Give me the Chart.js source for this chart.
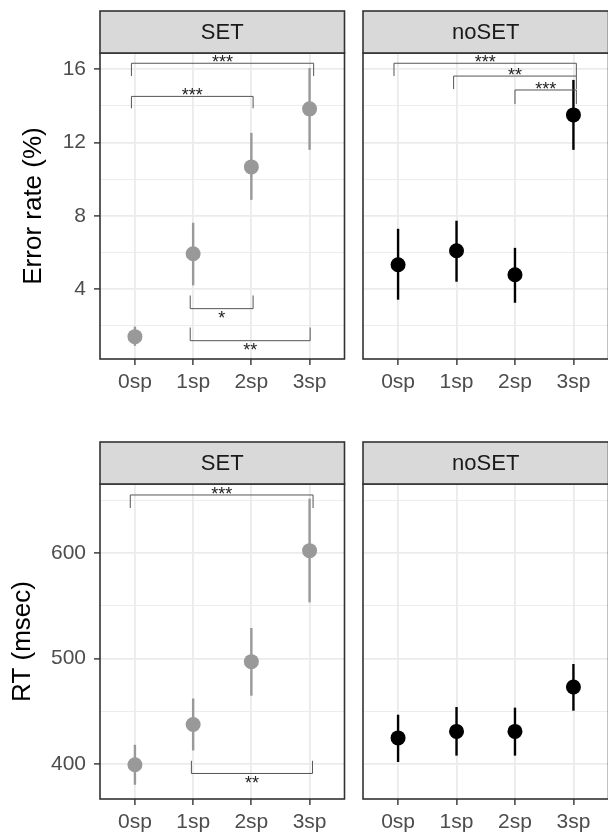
<!DOCTYPE html>
<html>
<head>
<meta charset="utf-8">
<script src="https://cdn.jsdelivr.net/npm/chart.js@4.4.1/dist/chart.umd.min.js"></script>
<style>
  html, body { margin: 0; padding: 0; background: #fff; overflow: hidden; }
  #wrap { position: relative; width: 608px; height: 835px; overflow: hidden; }
  canvas { position: absolute; }
</style>
</head>
<body>
<div id="wrap">
  <canvas id="errSet" width="352" height="410" style="left:0;top:0"></canvas>
  <canvas id="errNoSet" width="264" height="410" style="left:352px;top:0"></canvas>
  <canvas id="rtSet" width="352" height="425" style="left:0;top:410px"></canvas>
  <canvas id="rtNoSet" width="264" height="425" style="left:352px;top:410px"></canvas>
</div>
<script>
const conditions = ["0sp", "1sp", "2sp", "3sp"];

// error rate (%): mean and interval ends
const errSetMean = [1.40, 5.93, 10.67, 13.84];
const errSetLow = [0.90, 4.20, 8.87, 11.60];
const errSetHigh = [1.95, 7.62, 12.53, 16.07];
const errNoSetMean = [5.33, 6.09, 4.78, 13.51];
const errNoSetLow = [3.42, 4.40, 3.25, 11.60];
const errNoSetHigh = [7.29, 7.73, 6.25, 15.42];

// RT (msec)
const rtSetMean = [399.3, 437.4, 497.0, 602.2];
const rtSetLow = [380.3, 412.8, 464.7, 553.2];
const rtSetHigh = [418.2, 462.1, 528.9, 651.5];
const rtNoSetMean = [424.7, 430.9, 430.9, 473.0];
const rtNoSetLow = [401.9, 407.9, 407.9, 450.5];
const rtNoSetHigh = [446.7, 454.0, 453.4, 494.8];

const errTicks = [4, 8, 12, 16];
const errMinor = [2, 6, 10, 14];
const errRange = [0.18, 16.89];
const rtTicks = [400, 500, 600];
const rtMinor = [450, 550, 650];
const rtRange = [366.8, 665.4];

// significance brackets: [from, to, line y, leg end y, label]
const errSetBrackets = [
    [-0.06, 3.07, 16.33, 15.63, "***"],
    [-0.06, 2.03, 14.52, 13.87, "***"],
    [0.95, 2.03, 2.93, 3.65, "*"],
    [0.95, 3.01, 1.18, 1.90, "**"]
];
const errNoSetBrackets = [
    [-0.07, 3.05, 16.33, 15.63, "***"],
    [0.95, 3.05, 15.63, 14.92, "**"],
    [2.00, 3.05, 14.87, 14.10, "***"]
];
const rtSetBrackets = [
    [-0.08, 3.06, 655, 642.6, "***"],
    [0.97, 3.05, 391, 403, "**"]
];
const rtNoSetBrackets = [];

Chart.defaults.font.family = "'Liberation Sans', Arial, sans-serif";

function makePanel(id, cfg) {
    const isMajor = v => cfg.major.includes(v);

    const deco = {
        id: "deco",
        beforeDatasetsDraw(chart) {
            const { ctx, scales: { x, y } } = chart;
            ctx.save();
            ctx.strokeStyle = cfg.color;
            ctx.lineWidth = 2.4;
            cfg.low.forEach((lo, i) => {
                const px = x.getPixelForValue(i);
                ctx.beginPath();
                ctx.moveTo(px, y.getPixelForValue(lo));
                ctx.lineTo(px, y.getPixelForValue(cfg.high[i]));
                ctx.stroke();
            });
            ctx.restore();
        },
        afterDatasetsDraw(chart) {
            const { ctx, scales: { x, y } } = chart;
            ctx.save();
            ctx.strokeStyle = "#555";
            ctx.lineWidth = 1;
            ctx.fillStyle = "#222";
            ctx.font = "18px 'Liberation Sans', Arial, sans-serif";
            ctx.textAlign = "center";
            ctx.textBaseline = "alphabetic";
            cfg.brackets.forEach(b => {
                const x1 = x.getPixelForValue(b[0]);
                const x2 = x.getPixelForValue(b[1]);
                const ly = y.getPixelForValue(b[2]);
                const ty = y.getPixelForValue(b[3]);
                ctx.beginPath();
                ctx.moveTo(x1, ty);
                ctx.lineTo(x1, ly);
                ctx.lineTo(x2, ly);
                ctx.lineTo(x2, ty);
                ctx.stroke();
                const below = ty < ly;
                ctx.fillText(b[4], (x1 + x2) / 2, below ? ly + 15.5 : ly + 5);
            });
            ctx.restore();
        },
        afterDraw(chart) {
            const { ctx, chartArea: a } = chart;
            ctx.save();
            ctx.strokeStyle = "#333";
            ctx.lineWidth = 1.6;
            ctx.strokeRect(a.left, a.top, a.right - a.left, a.bottom - a.top);
            ctx.fillStyle = "#d9d9d9";
            ctx.fillRect(a.left, a.top - 42, a.right - a.left, 42);
            ctx.strokeRect(a.left, a.top - 42, a.right - a.left, 42);
            ctx.fillStyle = "#1a1a1a";
            ctx.font = "22px 'Liberation Sans', Arial, sans-serif";
            ctx.textAlign = "center";
            ctx.textBaseline = "middle";
            ctx.fillText(cfg.strip, (a.left + a.right) / 2, a.top - 20);
            ctx.restore();
        }
    };

    return new Chart(document.getElementById(id), {
        type: "scatter",
        data: {
            datasets: [{
                data: cfg.mean.map((v, i) => ({ x: i, y: v })),
                pointRadius: 7.5,
                pointHoverRadius: 7.5,
                pointBackgroundColor: cfg.color,
                pointBorderWidth: 0
            }]
        },
        options: {
            responsive: false,
            animation: false,
            events: [],
            layout: { padding: { top: cfg.padTop, left: cfg.padLeft, right: cfg.padRight, bottom: 0 } },
            plugins: { legend: { display: false }, tooltip: { enabled: false } },
            scales: {
                x: {
                    type: "linear",
                    min: -0.6,
                    max: 3.6,
                    afterBuildTicks: s => { s.ticks = conditions.map((c, i) => ({ value: i })); },
                    afterFit: s => { s.height = cfg.xAxisH; },
                    ticks: {
                        callback: (v, i) => conditions[i],
                        color: "#4d4d4d",
                        font: { size: 21 },
                        padding: 5,
                        maxRotation: 0,
                        autoSkip: false
                    },
                    grid: { color: "#ebebeb", lineWidth: 1.8, tickLength: 6, tickColor: "#333", tickWidth: 1.4 },
                    border: { display: false }
                },
                y: {
                    min: cfg.range[0],
                    max: cfg.range[1],
                    afterBuildTicks: s => {
                        s.ticks = cfg.major.concat(cfg.minor).sort((a, b) => a - b).map(v => ({ value: v }));
                    },
                    afterFit: s => { s.width = cfg.yAxisW; },
                    ticks: {
                        display: cfg.yAxisW > 0,
                        callback: v => isMajor(v) ? String(v) : "",
                        color: "#4d4d4d",
                        font: { size: 21 },
                        padding: 8,
                        autoSkip: false
                    },
                    grid: {
                        color: "#ebebeb",
                        lineWidth: c => isMajor(c.tick.value) ? 1.8 : 0.9,
                        drawTicks: cfg.yAxisW > 0,
                        tickLength: 6,
                        tickColor: c => isMajor(c.tick.value) ? "#333" : "rgba(0,0,0,0)",
                        tickWidth: 1.4
                    },
                    border: { display: false },
                    title: {
                        display: !!cfg.title,
                        text: cfg.title || "",
                        color: "#000",
                        font: { size: 26 },
                        padding: { top: cfg.titlePad || 0, bottom: 0 }
                    }
                }
            }
        },
        plugins: [deco]
    });
}

makePanel("errSet", {
    strip: "SET", color: "#999999",
    mean: errSetMean, low: errSetLow, high: errSetHigh, brackets: errSetBrackets,
    major: errTicks, minor: errMinor, range: errRange,
    padTop: 53, padLeft: 0, padRight: 3, xAxisH: 51, yAxisW: 100,
    title: "Error rate (%)", titlePad: 18.7
});
makePanel("errNoSet", {
    strip: "noSET", color: "#000000",
    mean: errNoSetMean, low: errNoSetLow, high: errNoSetHigh, brackets: errNoSetBrackets,
    major: errTicks, minor: errMinor, range: errRange,
    padTop: 53, padLeft: 11, padRight: 5, xAxisH: 51, yAxisW: 0
});
makePanel("rtSet", {
    strip: "SET", color: "#999999",
    mean: rtSetMean, low: rtSetLow, high: rtSetHigh, brackets: rtSetBrackets,
    major: rtTicks, minor: rtMinor, range: rtRange,
    padTop: 74, padLeft: 0, padRight: 3, xAxisH: 36, yAxisW: 100,
    title: "RT (msec)", titlePad: 7.4
});
makePanel("rtNoSet", {
    strip: "noSET", color: "#000000",
    mean: rtNoSetMean, low: rtNoSetLow, high: rtNoSetHigh, brackets: rtNoSetBrackets,
    major: rtTicks, minor: rtMinor, range: rtRange,
    padTop: 74, padLeft: 11, padRight: 5, xAxisH: 36, yAxisW: 0
});
</script>
</body>
</html>
